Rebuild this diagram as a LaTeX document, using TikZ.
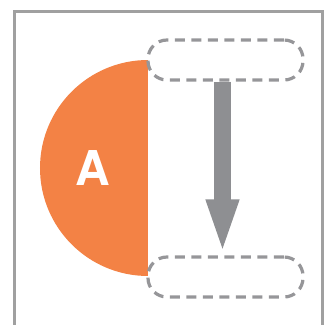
\documentclass[tikz,border=0pt]{standalone}
\usepackage{fontspec}
\setsansfont{TeX Gyre Heros}
\usetikzlibrary{arrows.meta, calc, positioning}
\definecolor{halforange}{RGB}{243,130,69}
\definecolor{dashgray}{RGB}{150,150,153}
\definecolor{arrowgray}{RGB}{142,143,146}
\definecolor{framegray}{RGB}{160,160,160}
\tikzstyle{slot} = [rectangle, rounded corners=19pt, minimum width=155pt, minimum
height=40pt, draw=dashgray, line width=3.2pt, dash pattern=on 10pt off 6.5pt]
\tikzstyle{bigarrow} = [arrowgray, line width=17pt, -{Triangle[width=29pt, length=56pt]}]

\begin{document}
\begin{tikzpicture}[x=1pt, y=1pt]
      \useasboundingbox (0,0) rectangle (324,325);
      \draw [framegray, line width=2.6pt] (14.5,-5) -- (14.5,313.7) -- (322.5,313.7) -- (322.5,-5);

      \coordinate (half) at (148,157);
      \fill [halforange] ($(half)+(0,108)$) arc [start angle=90, end angle=270, radius=108] -- cycle;
      \node (lettera) at (93,157) [text=white, font=\sffamily\bfseries\fontsize{48}{48}\selectfont] {A};

      \node (top) [slot] at (225.5,265) {};
      \node (bot) [slot] at (225.5,48) {};

      \draw [bigarrow] ([xshift=-3pt]top.south) -- ([xshift=-3pt]bot.north);
    \end{tikzpicture}
\end{document}
